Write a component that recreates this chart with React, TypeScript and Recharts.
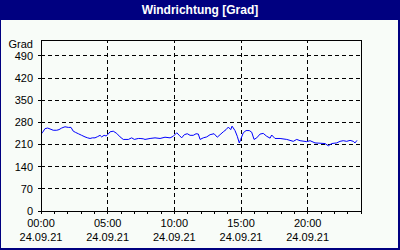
import React from 'react';
import { LineChart, Line, XAxis, YAxis, ReferenceLine } from 'recharts';

const hours = [0.0, 0.1, 0.3, 0.5, 0.68, 0.92, 1.18, 1.35, 1.55, 1.8, 2.05, 2.25, 2.42, 2.6, 2.8, 3.05, 3.3, 3.5, 3.68, 3.85, 4.05, 4.25, 4.43, 4.55, 4.73, 4.88, 5.0, 5.18, 5.42, 5.68, 5.93, 6.17, 6.55, 6.8, 7.0, 7.3, 7.43, 7.67, 7.8, 8.18, 8.55, 8.93, 9.3, 9.68, 9.92, 10.18, 10.37, 10.55, 10.75, 10.97, 11.18, 11.42, 11.63, 11.8, 11.93, 12.17, 12.43, 12.68, 12.98, 13.22, 13.43, 13.67, 13.88, 14.05, 14.23, 14.33, 14.55, 14.72, 14.87, 14.98, 15.17, 15.38, 15.62, 15.8, 15.98, 16.18, 16.43, 16.67, 16.93, 17.18, 17.3, 17.55, 17.93, 18.43, 18.92, 19.18, 19.43, 19.93, 20.18, 20.55, 20.93, 21.3, 21.55, 21.8, 22.18, 22.43, 22.67, 22.93, 23.18, 23.42, 23.55, 23.7];
const degrees = [250, 247, 260, 262, 259, 255, 255, 257, 262, 266, 264, 264, 252, 248, 244, 239, 234, 231, 229, 231, 231, 235, 239, 234, 239, 237, 241, 250, 252, 245, 234, 226, 226, 231, 226, 229, 229, 228, 226, 229, 231, 229, 233, 231, 236, 247, 239, 231, 241, 244, 239, 239, 244, 243, 226, 231, 234, 241, 244, 233, 241, 250, 257, 265, 257, 268, 254, 236, 215, 226, 247, 254, 254, 249, 226, 231, 243, 245, 236, 230, 240, 229, 229, 226, 220, 226, 222, 219, 222, 215, 214, 213, 206, 213, 215, 220, 222, 220, 223, 220, 215, 223];

const leftTicks = [0, 70, 140, 210, 280, 350, 420, 490];
const rightTicks = [0, 45, 90, 135, 180, 225, 270, 315, 360, 405, 450, 495, 540];
const rightLabels = ['N', 'NE', 'E', 'SE', 'S', 'SW', 'W', 'NW', 'N', 'NE', 'E', 'SE', 'S'];
const hourTicks = [0, 1, 2, 3, 4, 5, 6, 7, 8, 9, 10, 11, 12, 13, 14, 15, 16, 17, 18, 19, 20, 21, 22, 23, 24];
const labeledHours = [0, 5, 10, 15, 20];
const timeLabels = ['00:00', '05:00', '10:00', '15:00', '20:00'];
const dateLabel = '24.09.21';
const title = 'Windrichtung [Grad]';
const unit = 'Grad';

const data = hours.map((h, i) => ({ h, v: degrees[i] }));

const FONT = '"Liberation Sans", Arial, sans-serif';

const XTick = (props: any) => {
  const { x, y, payload } = props;
  const idx = labeledHours.indexOf(payload.value);
  if (idx < 0) return null;
  return (
    <g>
      <text x={x} y={y + 11} textAnchor="middle" fontSize={11} fontFamily={FONT} fill="#000">{timeLabels[idx]}</text>
      <text x={x} y={y + 25} textAnchor="middle" fontSize={11} fontFamily={FONT} fill="#000">{dateLabel}</text>
    </g>
  );
};

const crisp = { stroke: '#000', shapeRendering: 'crispEdges' } as any;

export default function App() {
  return (
    <div style={{ position: 'absolute', left: 0, top: 0, width: 400, height: 250, background: '#000080', overflow: 'hidden' }}>
      <div style={{ position: 'absolute', left: 0, top: 0, width: 400, height: 20, color: '#fff', fontFamily: FONT, fontWeight: 'bold', fontSize: 12, lineHeight: '20px', textAlign: 'center' }}>{title}</div>
      <div style={{ position: 'absolute', left: 1, top: 20, width: 397, height: 228, background: '#F8FCF8' }} />
      <div style={{ position: 'absolute', left: 0, top: 38, width: 33, textAlign: 'right', fontFamily: FONT, fontSize: 11, color: '#000' }}>{unit}</div>
      <div style={{ position: 'absolute', left: 0, top: 0 }}>
        <LineChart width={400} height={250} data={data} margin={{ top: 40, right: 9, bottom: 9, left: 11 }}>
          <XAxis
            dataKey="h"
            type="number"
            domain={[0, 24]}
            ticks={hourTicks}
            interval={0}
            tickSize={3}
            height={30}
            axisLine={crisp}
            tickLine={crisp}
            tick={<XTick />}
          />
          <YAxis
            yAxisId="left"
            domain={[0, 540]}
            ticks={leftTicks}
            interval={0}
            width={30}
            tickSize={3}
            tickMargin={5}
            axisLine={crisp}
            tickLine={crisp}
            tick={{ fill: '#000', fontSize: 11, fontFamily: FONT }}
          />
          <YAxis
            yAxisId="right"
            orientation="right"
            domain={[0, 540]}
            ticks={rightTicks}
            interval={0}
            width={30}
            tickSize={3}
            tickMargin={2}
            axisLine={crisp}
            tickLine={crisp}
            tickFormatter={(v: number) => rightLabels[rightTicks.indexOf(v)]}
            tick={{ fill: '#000', fontSize: 11, fontFamily: FONT, textAnchor: 'start' }}
          />
          {leftTicks.filter((t) => t > 0).map((t) => (
            <ReferenceLine key={'h' + t} yAxisId="left" y={t} stroke="#000" strokeDasharray="4 3" shapeRendering="crispEdges" />
          ))}
          {labeledHours.filter((t) => t > 0).map((t) => (
            <ReferenceLine key={'v' + t} yAxisId="left" x={t} stroke="#000" strokeDasharray="4 3" shapeRendering="crispEdges" />
          ))}
          <ReferenceLine yAxisId="left" y={540} stroke="#000" shapeRendering="crispEdges" />
          <Line yAxisId="left" type="linear" dataKey="v" stroke="#0000FF" strokeWidth={1} dot={false} isAnimationActive={false} />
        </LineChart>
      </div>
    </div>
  );
}
